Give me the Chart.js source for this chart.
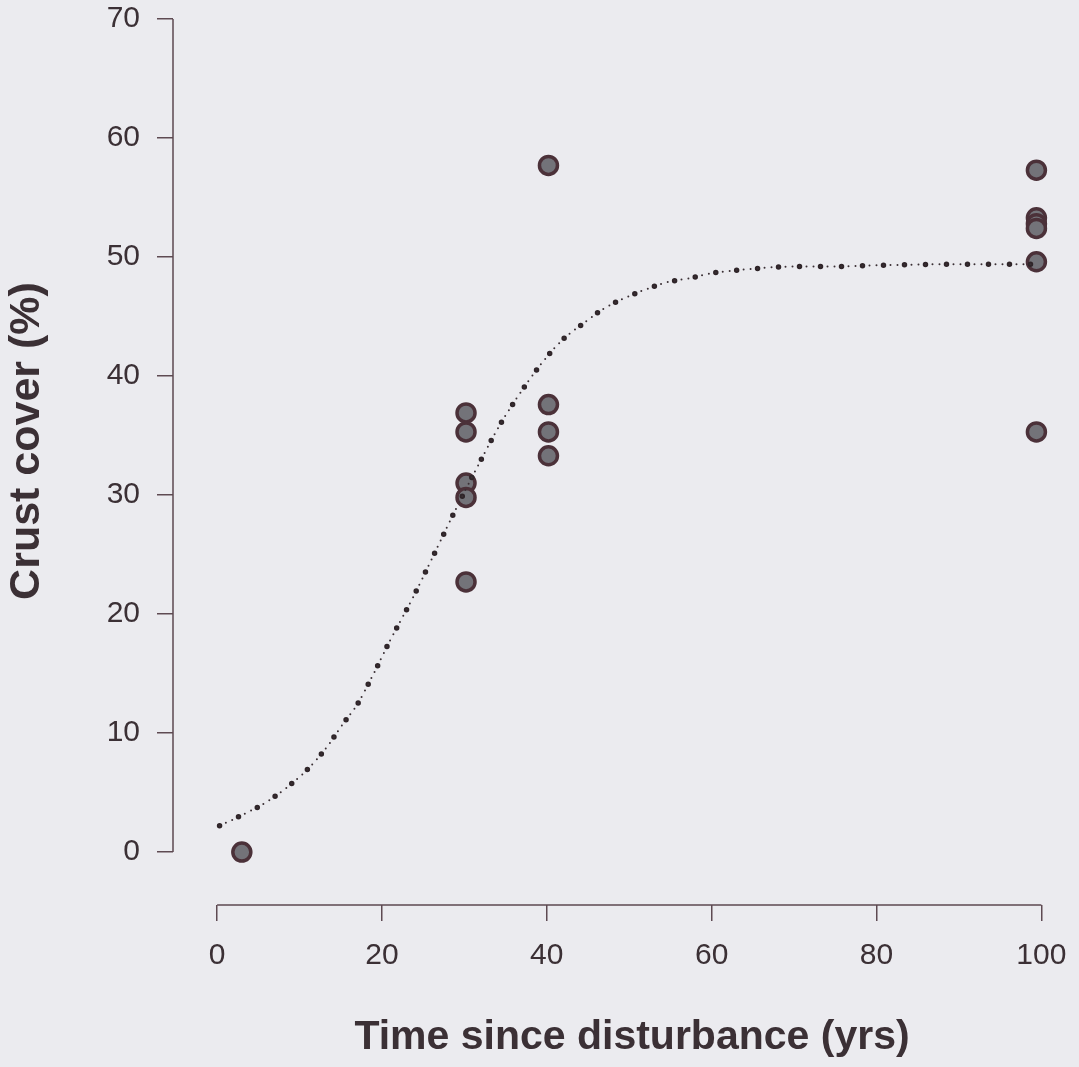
<!DOCTYPE html>
<html>
<head>
<meta charset="utf-8">
<script src="https://cdn.jsdelivr.net/npm/chart.js"></script>
<style>
  html, body { margin: 0; padding: 0; background: #ebebef; }
  #wrap { width: 1079px; height: 1067px; position: relative; }
</style>
</head>
<body>
<div id="wrap"><canvas id="crust-chart"></canvas></div>
<script>
// observed crust cover
const obsYears = [3, 30.2, 30.2, 30.2, 30.2, 30.2, 40.2, 40.2, 40.2, 40.2, 99.4, 99.4, 99.4, 99.4, 99.4, 99.4];
const obsCover = [0, 36.9, 35.3, 31.0, 29.8, 22.7, 57.7, 37.6, 35.3, 33.3, 57.3, 53.3, 52.8, 52.4, 49.6, 35.3];

// fitted curve
const fitYears = [0.3, 3.6, 6, 8.6, 11.2, 13.4, 15.2, 17, 19, 21, 23.7, 26.1, 28.6, 31.6, 34.4, 37.7, 40, 42, 44.6, 47, 49.6, 52.1, 54.7, 57.2, 59.7, 64.8, 69.9, 74.8, 80, 90, 99];
const fitCover = [2.2, 3.3, 4.2, 5.5, 7.1, 8.9, 10.7, 12.4, 15.0, 17.8, 21.3, 24.7, 28.3, 32.4, 36.0, 39.5, 41.6, 43.1, 44.5, 45.7, 46.6, 47.3, 47.9, 48.2, 48.6, 49.0, 49.2, 49.2, 49.3, 49.4, 49.4];

const xTicks = [0, 20, 40, 60, 80, 100];
const yTicks = [0, 10, 20, 30, 40, 50, 60, 70];

const xTitle = "Time since disturbance (yrs)";
const yTitle = "Crust cover (%)";

const axisColor = "#5e4a52";
const textColor = "#3b3035";

Chart.defaults.font.family = "'Liberation Sans', Arial, sans-serif";
Chart.defaults.color = textColor;

const toXY = (xs, ys) => xs.map((x, i) => ({ x: x, y: ys[i] }));

// R style axes: line only from first to last tick, plus titles
const rAxes = {
  id: "rAxes",
  afterDraw(chart) {
    const { ctx, chartArea, scales } = chart;
    const x = scales.x, y = scales.y;
    ctx.save();
    ctx.strokeStyle = axisColor;
    ctx.lineWidth = 1.5;
    ctx.beginPath();
    ctx.moveTo(chartArea.left, y.getPixelForValue(yTicks[0]));
    ctx.lineTo(chartArea.left, y.getPixelForValue(yTicks[yTicks.length - 1]));
    ctx.moveTo(x.getPixelForValue(xTicks[0]), chartArea.bottom);
    ctx.lineTo(x.getPixelForValue(xTicks[xTicks.length - 1]), chartArea.bottom);
    ctx.stroke();

    ctx.fillStyle = textColor;
    ctx.textAlign = "center";
    ctx.textBaseline = "middle";
    ctx.font = "bold 41px 'Liberation Sans', Arial, sans-serif";
    ctx.fillText(xTitle, 632, 1038);
    ctx.translate(27, 441);
    ctx.rotate(-Math.PI / 2);
    ctx.font = "bold 43px 'Liberation Sans', Arial, sans-serif";
    ctx.fillText(yTitle, 0, 0);
    ctx.restore();
  }
};

const ctx = document.getElementById("crust-chart").getContext("2d");
new Chart(ctx, {
  type: "scatter",
  data: {
    datasets: [
      {
        // small dots of the fitted line
        type: "line",
        data: toXY(fitYears, fitCover),
        borderColor: "#3a2f34",
        borderWidth: 2,
        borderDash: [0, 7],
        borderCapStyle: "round",
        pointRadius: 0,
        cubicInterpolationMode: "monotone",
        fill: false,
      },
      {
        // bigger dots of the fitted line
        type: "line",
        data: toXY(fitYears, fitCover),
        borderColor: "#2f2529",
        borderWidth: 5.5,
        borderDash: [0, 21],
        borderCapStyle: "round",
        pointRadius: 0,
        cubicInterpolationMode: "monotone",
        fill: false,
      },
      {
        data: toXY(obsYears, obsCover),
        backgroundColor: "#737379",
        borderColor: "#4b3139",
        borderWidth: 3.5,
        pointRadius: 9,
        pointHoverRadius: 9,
      },
    ],
  },
  options: {
    responsive: true,
    maintainAspectRatio: false,
    animation: false,
    events: [],
    layout: { padding: { top: 19, right: 6, left: 0, bottom: 0 } },
    plugins: { legend: { display: false }, tooltip: { enabled: false } },
    scales: {
      x: {
        type: "linear",
        min: -5.35,
        max: 103.05,
        afterBuildTicks: (s) => { s.ticks = xTicks.map((v) => ({ value: v })); },
        afterFit: (s) => { s.height = 162; s.paddingLeft = 0; s.paddingRight = 0; },
        border: { display: false },
        grid: { drawOnChartArea: false, drawTicks: true, tickLength: 16, color: axisColor, lineWidth: 1.5 },
        ticks: { font: { size: 30 }, padding: 17, color: textColor, maxRotation: 0 },
      },
      y: {
        type: "linear",
        min: -4.45,
        max: 70,
        afterBuildTicks: (s) => { s.ticks = yTicks.map((v) => ({ value: v })); },
        afterFit: (s) => { s.width = 173; s.paddingTop = 0; s.paddingBottom = 0; },
        border: { display: false },
        grid: { drawOnChartArea: false, drawTicks: true, tickLength: 16, color: axisColor, lineWidth: 1.5 },
        ticks: { font: { size: 30 }, padding: 17, color: textColor },
      },
    },
  },
  plugins: [rAxes],
});
</script>
</body>
</html>
